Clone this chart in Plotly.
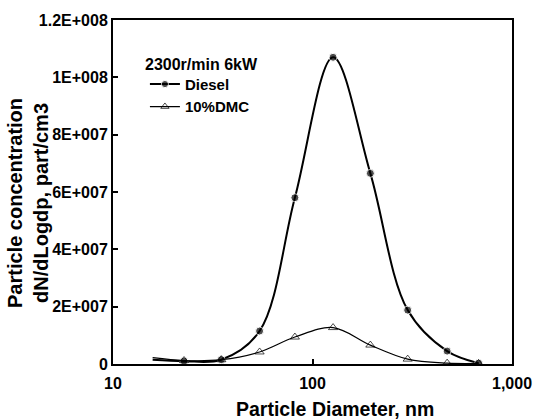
import plotly.graph_objects as go

diameter_nm = [15.8, 22.7, 34.9, 54.3, 81.6, 126.8, 195, 300, 473, 680]
diesel = [1.5e6, 1.0e6, 1.5e6, 1.15e7, 5.8e7, 1.07e8, 6.65e7, 1.88e7, 4.5e6, 3e5]
dmc10 = [2.2e6, 1.2e6, 1.5e6, 4.2e6, 9.4e6, 1.27e7, 6.6e6, 1.7e6, 3e5, 2e5]

y_tickvals = [0, 2e7, 4e7, 6e7, 8e7, 1e8, 1.2e8]
y_ticktext = ["0", "2E+007", "4E+007", "6E+007", "8E+007", "1E+008", "1.2E+008"]
x_tickvals = [10, 100, 1000]
x_ticktext = ["10", "100", "1,000"]

FONT = "Liberation Sans"

fig = go.Figure()
fig.add_trace(go.Scatter(
    x=diameter_nm, y=diesel, name="Diesel", mode="lines+markers",
    line=dict(color="black", width=2, shape="spline", smoothing=1.0),
    marker=dict(symbol="circle", size=[0] + [8] * 9, color="black"),
))
fig.add_trace(go.Scatter(
    x=diameter_nm, y=dmc10, name="10%DMC", mode="lines+markers",
    line=dict(color="black", width=1.2, shape="spline", smoothing=1.0),
    marker=dict(symbol="triangle-up-open", size=[0] + [8] * 9, color="black",
                line=dict(width=1, color="black")),
))

fig.update_layout(
    width=544, height=419,
    margin=dict(l=113, r=25, t=20, b=55),
    paper_bgcolor="white", plot_bgcolor="white",
    font=dict(family=FONT, size=15, color="black", weight="bold"),
    showlegend=True,
    legend=dict(
        x=0.08, y=0.861, xanchor="left", yanchor="top",
        bgcolor="rgba(0,0,0,0)",
        font=dict(family=FONT, size=15, color="black", weight="bold"),
        tracegroupgap=0,
    ),
    annotations=[
        dict(text="2300r/min 6kW", xref="paper", yref="paper",
             x=0, y=1, xanchor="left", yanchor="middle",
             xshift=143 - 113, yshift=-(64 - 20), showarrow=False,
             font=dict(family=FONT, size=16, color="black", weight="bold")),
        dict(text="Particle Diameter, nm", xref="paper", yref="paper",
             x=0.557, y=0, xanchor="center", yanchor="middle",
             yshift=-45, showarrow=False,
             font=dict(family=FONT, size=19.5, color="black", weight="bold")),
        dict(text="Particle concentration<br>dN/dLogdp, part/cm3",
             xref="paper", yref="paper", x=0, y=(364 - 203) / 344,
             xanchor="center", yanchor="middle", xshift=28 - 113,
             textangle=-90, showarrow=False,
             font=dict(family=FONT, size=20, color="black", weight="bold")),
    ],
)
fig.update_xaxes(
    type="log", range=[1, 3],
    tickvals=x_tickvals, ticktext=x_ticktext,
    ticks="inside", ticklen=5, tickwidth=1.5, tickcolor="black",
    ticklabelstandoff=4,
    showline=True, linecolor="black", linewidth=2, mirror=True,
    showgrid=False, zeroline=False,
    tickfont=dict(family=FONT, size=16, color="black", weight="bold"),
)
fig.update_yaxes(
    range=[0, 1.2e8],
    tickvals=y_tickvals, ticktext=y_ticktext,
    ticks="inside", ticklen=5, tickwidth=1.5, tickcolor="black",
    showline=True, linecolor="black", linewidth=2, mirror=True,
    showgrid=False, zeroline=False,
    tickfont=dict(family=FONT, size=16, color="black", weight="bold"),
)

fig.write_html("out.html")
